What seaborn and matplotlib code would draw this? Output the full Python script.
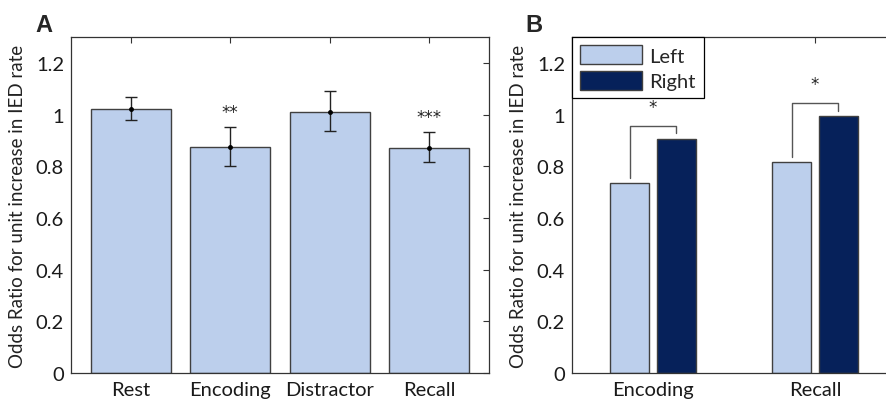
import matplotlib
matplotlib.use('Agg')
import matplotlib.pyplot as plt
import matplotlib.ticker as mticker
from matplotlib.patches import Patch
import seaborn as sns
import pandas as pd

# panel A
conditions = ['Rest', 'Encoding', 'Distractor', 'Recall']
odds_a = [1.022, 0.874, 1.010, 0.871]
err_hi = [1.066, 0.953, 1.093, 0.932]
err_lo = [0.980, 0.800, 0.936, 0.817]
stars_a = ['', '**', '', '***']

# panel B
phases = ['Encoding', 'Recall']
sides = ['Left', 'Right']
odds_left = [0.735, 0.818]
odds_right = [0.907, 0.995]
stars_b = ['*', '*']

light = '#bccfec'
navy = '#06215a'
edge = '#404040'
ylabel = 'Odds Ratio for unit increase in IED rate'

sns.set_style('white')
plt.rcParams['font.family'] = ['Lato', 'DejaVu Sans']

fig = plt.figure(figsize=(8.87, 4.02), dpi=100)
axA = fig.add_axes([71 / 887, 28 / 402, 418 / 887, 336 / 402])
axB = fig.add_axes([572 / 887, 28 / 402, 324 / 887, 336 / 402])


def style_axis(ax):
    ax.set_ylim(0, 1.3)
    ax.set_yticks([0, 0.2, 0.4, 0.6, 0.8, 1.0, 1.2])
    ax.yaxis.set_major_formatter(mticker.FormatStrFormatter('%g'))
    ax.tick_params(direction='in', length=4, width=0.8, top=True, right=True,
                   labelsize=14.5, pad=5, color='#333333', labelcolor='#1a1a1a')
    ax.tick_params(axis='x', labelsize=14.5, pad=6)
    for s in ax.spines.values():
        s.set_color('#333333')
        s.set_linewidth(0.9)
    ax.set_ylabel(ylabel, fontsize=13.5, color='#222222', labelpad=7)
    ax.set_xlabel('')
    ax.set_facecolor('white')


# A
dfA = pd.DataFrame({'condition': conditions, 'odds': odds_a})
sns.barplot(data=dfA, x='condition', y='odds', color=light, edgecolor=edge,
            linewidth=1.0, width=0.8, saturation=1, ax=axA)
xs = list(range(len(conditions)))
yerr = [[o - l for o, l in zip(odds_a, err_lo)], [h - o for o, h in zip(odds_a, err_hi)]]
axA.errorbar(xs, odds_a, yerr=yerr, fmt='o', ms=2.5, color='black', ecolor='#222222',
             elinewidth=1.0, capsize=4, capthick=1.0)
for x, h, s in zip(xs, err_hi, stars_a):
    if s:
        axA.text(x, h + 0.058, s, ha='center', va='center', fontsize=12,
                 family='DejaVu Sans', color='#222222')
axA.set_xlim(-0.6, 3.6)
style_axis(axA)

# B
dfB = pd.DataFrame({'phase': phases * 2,
                    'side': ['Left'] * 2 + ['Right'] * 2,
                    'odds': odds_left + odds_right})
sns.barplot(data=dfB, x='phase', y='odds', hue='side', hue_order=sides,
            palette=[light, navy], edgecolor=edge, linewidth=1.0, width=0.58, gap=0.19,
            saturation=1, legend=False, ax=axB)
axB.set_xlim(-0.5, 1.5)
style_axis(axB)

bars = sorted(axB.patches, key=lambda p: p.get_x())
for i, s in enumerate(stars_b):
    bl, br = bars[2 * i], bars[2 * i + 1]
    xl = bl.get_x() + bl.get_width() / 2
    xr = br.get_x() + br.get_width() / 2
    top = max(odds_left[i], odds_right[i]) + 0.05
    axB.plot([xl, xl, xr, xr], [odds_left[i] + 0.018, top, top, odds_right[i] + 0.02],
             color='#555555', lw=1.0)
    axB.text((xl + xr) / 2, top + 0.073, s, ha='center', va='center', fontsize=12,
             family='DejaVu Sans', color='#222222')

handles = [Patch(facecolor=light, edgecolor=edge, label='Left'),
           Patch(facecolor=navy, edgecolor=edge, label='Right')]
leg = axB.legend(handles=handles, loc='upper left', borderaxespad=0, fontsize=14.5,
                 frameon=True, fancybox=False, edgecolor='black', framealpha=1,
                 handlelength=3.1, handleheight=1.1, handletextpad=0.35,
                 borderpad=0.4, labelspacing=0.3)
leg.get_frame().set_linewidth(0.9)

fig.text(35 / 887, 1 - 25 / 402, 'A', fontsize=17, fontweight='bold',
         family='Liberation Sans', va='center', ha='left')
fig.text(525 / 887, 1 - 25 / 402, 'B', fontsize=17, fontweight='bold',
         family='Liberation Sans', va='center', ha='left')

fig.savefig('out.png', dpi=100)
